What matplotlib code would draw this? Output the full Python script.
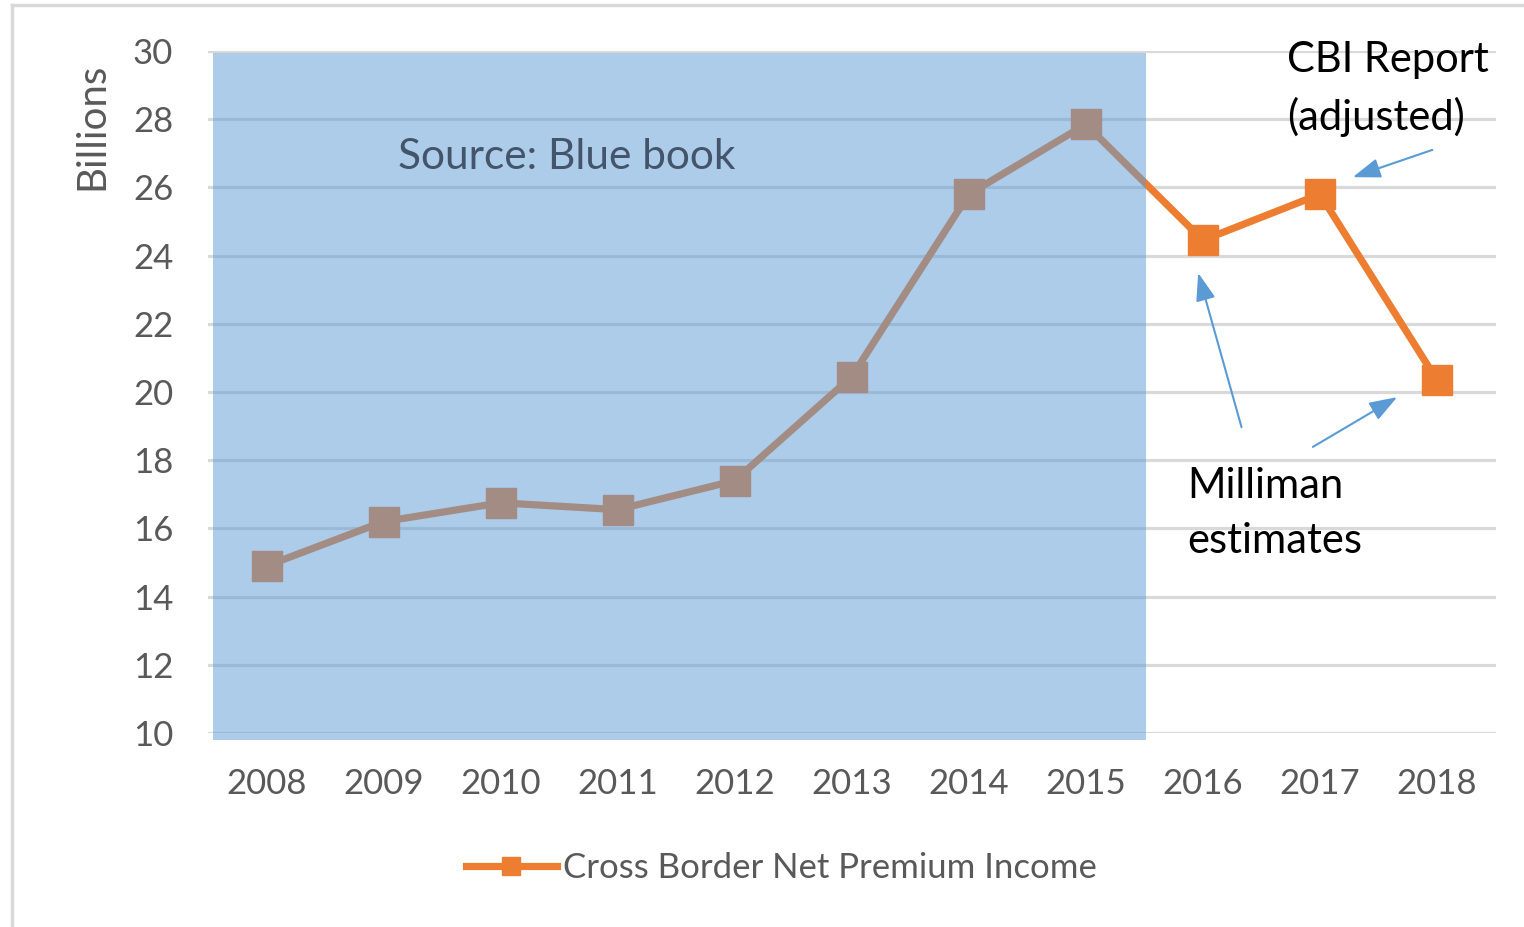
import matplotlib
matplotlib.use("Agg")
import matplotlib.pyplot as plt
from matplotlib.patches import Rectangle
from matplotlib.lines import Line2D

YEARS = ["2008", "2009", "2010", "2011", "2012", "2013",
         "2014", "2015", "2016", "2017", "2018"]
PREMIUM = [14.9, 16.2, 16.75, 16.55, 17.4, 20.45,
           25.8, 27.85, 24.45, 25.8, 20.35]
SERIES_LABEL = "Cross Border Net Premium Income"

ORANGE = "#ED7D31"
BLUE = "#5B9BD5"
GRID = "#D9D9D9"
TEXT_GRAY = "#595959"

plt.rcParams["font.family"] = ["Lato", "DejaVu Sans"]


def main():
    fig = plt.figure(figsize=(15.24, 9.27), dpi=100)
    ax = fig.add_axes([208 / 1524, 1 - 733 / 927, 1287.5 / 1524, 682 / 927])

    x = list(range(len(YEARS)))
    ax.plot(x, PREMIUM, color=ORANGE, linewidth=5.2, marker="s",
            markersize=21, label=SERIES_LABEL, zorder=3)

    # translucent "blue book" period overlay
    ax.add_patch(Rectangle((-0.46, 9.8), 7.975, 20.15, facecolor=BLUE,
                           alpha=0.5, edgecolor="none", zorder=4,
                           clip_on=False))

    ax.set_xlim(-0.5, len(YEARS) - 0.5)
    ax.set_ylim(10, 30)
    ax.set_yticks(range(10, 31, 2))
    ax.set_xticks(x)
    ax.set_xticklabels(YEARS)
    ax.grid(axis="y", color=GRID, linewidth=2.3, zorder=1)
    ax.set_axisbelow(True)
    for s in ax.spines.values():
        s.set_visible(False)
    ax.tick_params(length=0, labelsize=25, labelcolor=TEXT_GRAY)
    ax.tick_params(axis="y", pad=25)
    ax.tick_params(axis="x", pad=25)

    ax.set_ylabel("Billions", fontsize=29, color=TEXT_GRAY)
    ax.yaxis.set_label_coords(-0.076, 0.89)

    ax.text(1.12, 26.9, "Source: Blue book", fontsize=30.5, color="#44546A",
            va="center", ha="left", zorder=5)
    ax.text(8.72, 30.3, "CBI Report\n(adjusted)", fontsize=30,
            color="black", va="top", ha="left", linespacing=1.55,
            zorder=5, clip_on=False)
    ax.text(7.865, 17.8, "Milliman\nestimates", fontsize=30,
            color="black", va="top", ha="left", linespacing=1.55, zorder=5)

    arrows = [
        ((9.96, 27.1), (9.28, 26.3)),
        ((8.33, 18.97), (7.96, 23.49)),
        ((8.94, 18.39), (9.66, 19.85)),
    ]
    for tail, tip in arrows:
        ax.annotate("", xy=tip, xytext=tail,
                    arrowprops=dict(arrowstyle="-|>,head_length=1.7,head_width=0.6",
                                    color=BLUE, linewidth=1.5,
                                    shrinkA=0, shrinkB=0),
                    zorder=5)

    fig.legend(loc="center", bbox_to_anchor=(0.513, 0.064), frameon=False,
               fontsize=25, labelcolor=TEXT_GRAY, handlelength=2.6,
               handletextpad=0.2, markerscale=0.6)

    # chart border
    fig.add_artist(Line2D([12 / 1524, 1.0], [1 - 5 / 927, 1 - 5 / 927],
                          color=GRID, linewidth=2.5, transform=fig.transFigure))
    fig.add_artist(Line2D([12 / 1524, 12 / 1524], [0.0, 1 - 5 / 927],
                          color=GRID, linewidth=2.5, transform=fig.transFigure))

    fig.savefig("out.png", dpi=100)


if __name__ == "__main__":
    main()
